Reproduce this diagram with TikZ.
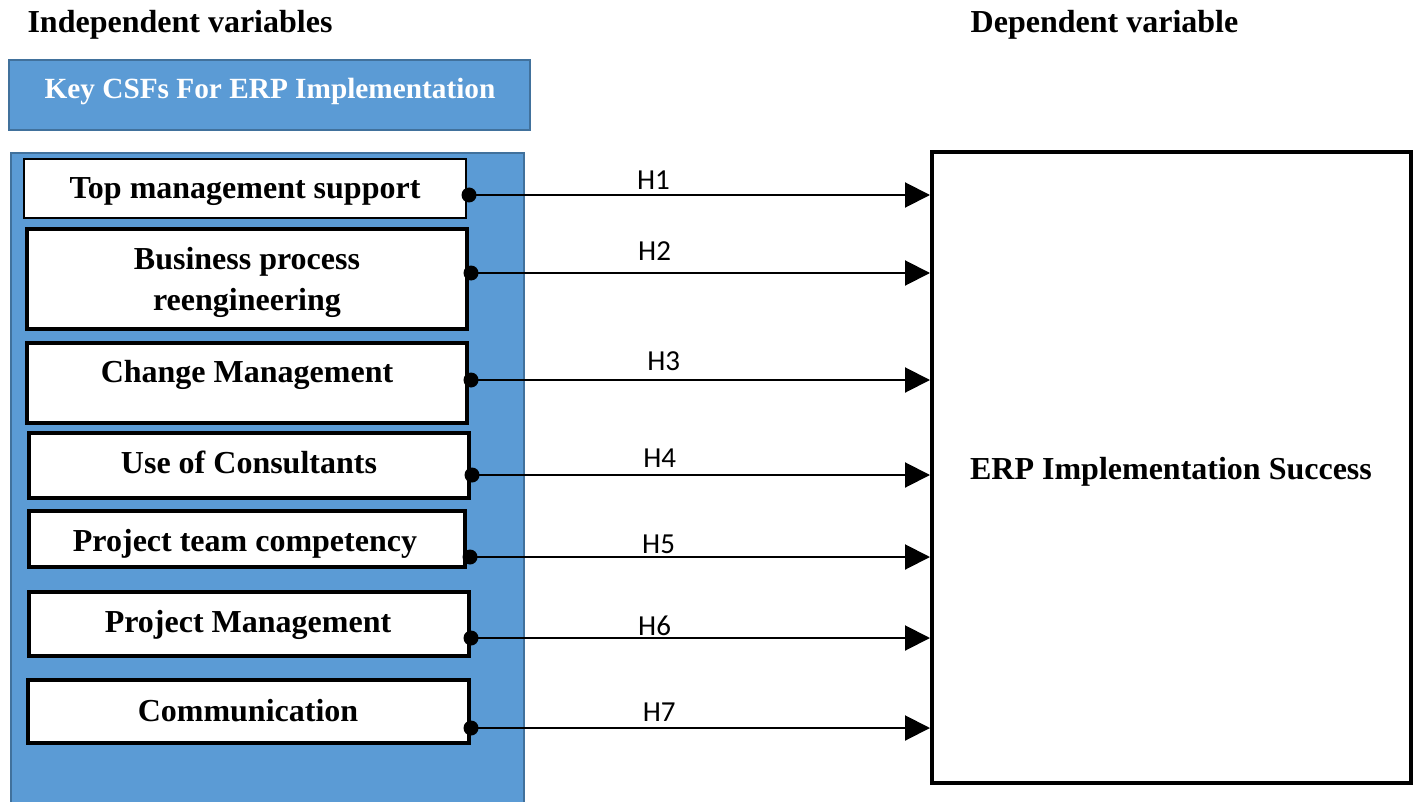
\documentclass[tikz,border=0pt]{standalone}
\usepackage{fontspec}
\setmainfont{Liberation Serif}
\newfontfamily\hfont{Carlito}
\usetikzlibrary{arrows.meta}
\definecolor{panelblue}{HTML}{5B9BD5}
\definecolor{paneledge}{HTML}{41719C}
\tikzset{
  x=1pt, y=-1pt,
  csfbox/.style={draw=black, fill=white, line width=4pt, inner sep=0pt, minimum width=440pt},
  csftext/.style={font=\fontsize{32}{41}\selectfont\bfseries, align=center, inner sep=0pt, text height=0.7em, text depth=0.25em},
  hlab/.style={font=\hfont\fontsize{29}{33}\selectfont, inner sep=0pt, anchor=south},
  link/.style={line width=2pt, -{Triangle[length=25pt,width=25pt]}},
  dot/.style={fill=black}
}
\begin{document}
\begin{tikzpicture}
\useasboundingbox (0,0) rectangle (1415,802);
% titles
\node[csftext] (indep) at (180,30) {Independent variables};
\node[csftext] (dep) at (1104.5,30) {Dependent variable};
% header box
\node[draw=paneledge, fill=panelblue, line width=2pt, minimum width=521pt, minimum height=70pt, inner sep=0pt] (head) at (269.5,95) {};
\node[csftext, font=\fontsize{29.3}{35}\selectfont\bfseries, text=white] (headtext) at (270,96) {Key CSFs For ERP Implementation};
% panel
\begin{scope}
\clip (0,0) rectangle (1415,802);
\draw[draw=paneledge, fill=panelblue, line width=2pt] (11,153) rectangle (524,812);
\end{scope}
% CSF boxes
\node[csfbox, line width=2.5pt, minimum width=442pt, minimum height=59pt] (b1) at (245,188.5) {};
\node[csfbox, minimum height=100pt] (b2) at (247,279) {};
\node[csfbox, minimum height=80pt] (b3) at (247,383) {};
\node[csfbox, minimum height=65pt] (b4) at (249,465.5) {};
\node[csfbox, minimum width=436pt, minimum height=56pt] (b5) at (247,539) {};
\node[csfbox, minimum height=64pt] (b6) at (249,624) {};
\node[csfbox, minimum width=441pt, minimum height=63pt] (b7) at (248.5,711.5) {};
\node[csftext] (t1) at (245,196) {Top management support};
\node[csftext] (t2a) at (247,267) {Business process};
\node[csftext] (t2b) at (247,308) {reengineering};
\node[csftext] (t3) at (247,380) {Change Management};
\node[csftext] (t4) at (249,471) {Use of Consultants};
\node[csftext] (t5) at (245,549) {Project team competency};
\node[csftext] (t6) at (248,630) {Project Management};
\node[csftext] (t7) at (248,719) {Communication};
% dependent box
\node[draw=black, line width=4pt, minimum width=479pt, minimum height=631pt, inner sep=0pt] (erp) at (1171.5,467.5) {};
\node[csftext] (erptext) at (1171,477) {ERP Implementation Success};
% start points
\coordinate (s1) at (469,195);
\coordinate (s2) at (471,273);
\coordinate (s3) at (471,380);
\coordinate (s4) at (472,475);
\coordinate (s5) at (470,557);
\coordinate (s6) at (471,638);
\coordinate (s7) at (471,728);
% connectors
\draw[link] (s1) -- node[hlab, pos=0.40, yshift=4pt] (h1) {H1} (s1 -| erp.west);
\draw[link] (s2) -- node[hlab, pos=0.40, yshift=12pt] (h2) {H2} (s2 -| erp.west);
\draw[link] (s3) -- node[hlab, pos=0.42, yshift=8pt] (h3) {H3} (s3 -| erp.west);
\draw[link] (s4) -- node[hlab, pos=0.41, yshift=7pt] (h4) {H4} (s4 -| erp.west);
\draw[link] (s5) -- node[hlab, pos=0.41, yshift=2pt] (h5) {H5} (s5 -| erp.west);
\draw[link] (s6) -- node[hlab, pos=0.40, yshift=1pt] (h6) {H6} (s6 -| erp.west);
\draw[link] (s7) -- node[hlab, pos=0.41, yshift=6pt] (h7) {H7} (s7 -| erp.west);
\foreach \s in {s1,s2,s3,s4,s5,s6,s7} \fill[dot] (\s) circle (7.5pt);
\end{tikzpicture}
\end{document}
